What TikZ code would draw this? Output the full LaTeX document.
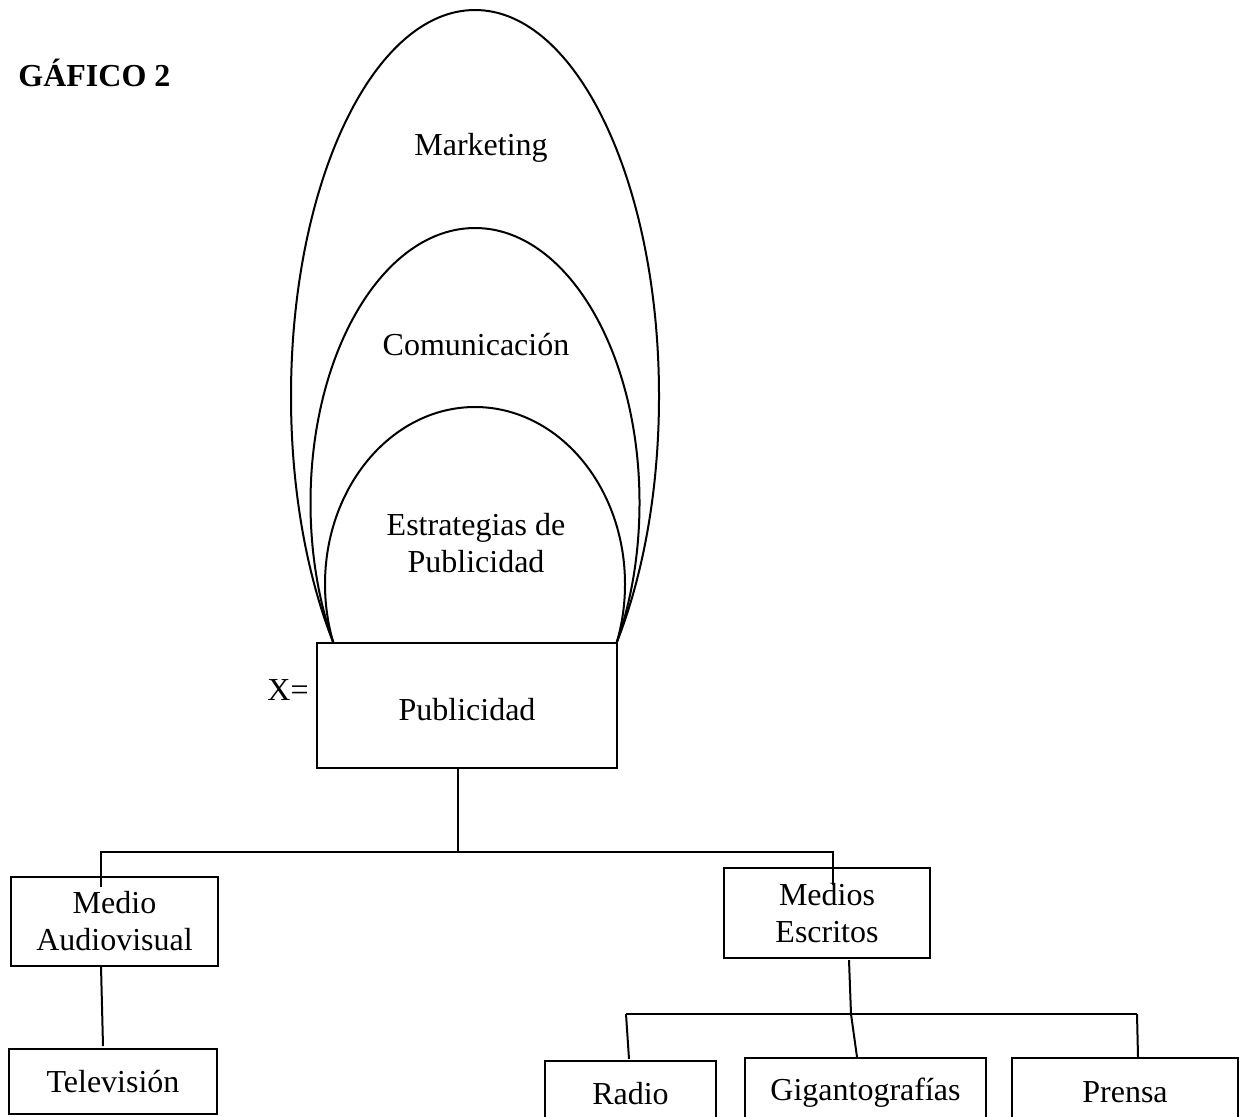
\documentclass[tikz,border=0pt]{standalone}
\usepackage{fontspec}
\setmainfont{Liberation Serif}
\begin{document}
\begin{tikzpicture}[x=0.5pt,y=-0.5pt,
  every node/.style={font=\fontsize{16}{18.5}\selectfont},
  box/.style={draw,line width=1pt,rectangle,inner sep=0pt,align=center},
  lbl/.style={inner sep=0pt,align=center},
  conn/.style={line width=1pt}]
\useasboundingbox (0,0) rectangle (1245,1116);
\clip (0,0) rectangle (1245,1116);
% title
\node[lbl,anchor=base west,font=\fontsize{16}{18.5}\selectfont\bfseries] (title) at (18,86) {GÁFICO 2};
% nested arches
\begin{scope}
\clip (0,0) rectangle (1245,643);
\draw[conn] (475,396.2) ellipse [x radius=184, y radius=386.2];
\draw[conn] (475,502.8) ellipse [x radius=164.5, y radius=274.8];
\draw[conn] (475,584.2) ellipse [x radius=150, y radius=177.2];
\end{scope}
\node[lbl] (mkt) at (481,148) {Marketing};
\node[lbl] (com) at (476,345) {Comunicación};
\node[lbl] (est) at (476,543) {Estrategias de\\Publicidad};
% main box
\node[box,minimum width=150pt,minimum height=62.5pt] (pub) at (467,705.5) {\raisebox{-7.25pt}[0pt][0pt]{Publicidad}};
\node[lbl,anchor=east] (x) at (309,690) {X=};
% level 2
\node[box,minimum width=103.5pt,minimum height=44.5pt] (aud) at (114.5,921.5) {Medio\\Audiovisual};
\node[box,minimum width=103pt,minimum height=45pt] (esc) at (827,913) {Medios\\Escritos};
\node[box,minimum width=104pt,minimum height=32.5pt] (tv) at (113,1081.5) {Televisión};
\node[box,minimum width=85.5pt,minimum height=33pt] (rad) at (630.5,1094) {Radio};
\node[box,minimum width=120.5pt,minimum height=34.5pt] (gig) at (865.5,1092.5) {Gigantografías};
\node[box,minimum width=113pt,minimum height=34.5pt] (pre) at (1125,1092.5) {Prensa};
% connector coordinates
\coordinate (j0) at (458,768);
\coordinate (j1) at (458,852);
\coordinate (jl) at (101,852);
\coordinate (jr) at (833,852);
\coordinate (el) at (101,887);
\coordinate (er) at (833,885);
\coordinate (a1) at (101,966);
\coordinate (t1) at (103,1046);
\coordinate (e1) at (849,960);
\coordinate (j2) at (851,1014);
\coordinate (kl) at (626,1014);
\coordinate (kr) at (1137,1014);
\coordinate (rt) at (629,1059);
\coordinate (gt) at (857,1057);
\coordinate (pt) at (1138,1057);
\draw[conn] (j0) -- (j1);
\draw[conn] (el) -- (jl) -- (jr) -- (er);
\draw[conn] (a1) -- (t1);
\draw[conn] (e1) -- (j2);
\draw[conn] (kl) -- (kr);
\draw[conn] (kl) -- (rt);
\draw[conn] (j2) -- (gt);
\draw[conn] (kr) -- (pt);
\end{tikzpicture}
\end{document}
